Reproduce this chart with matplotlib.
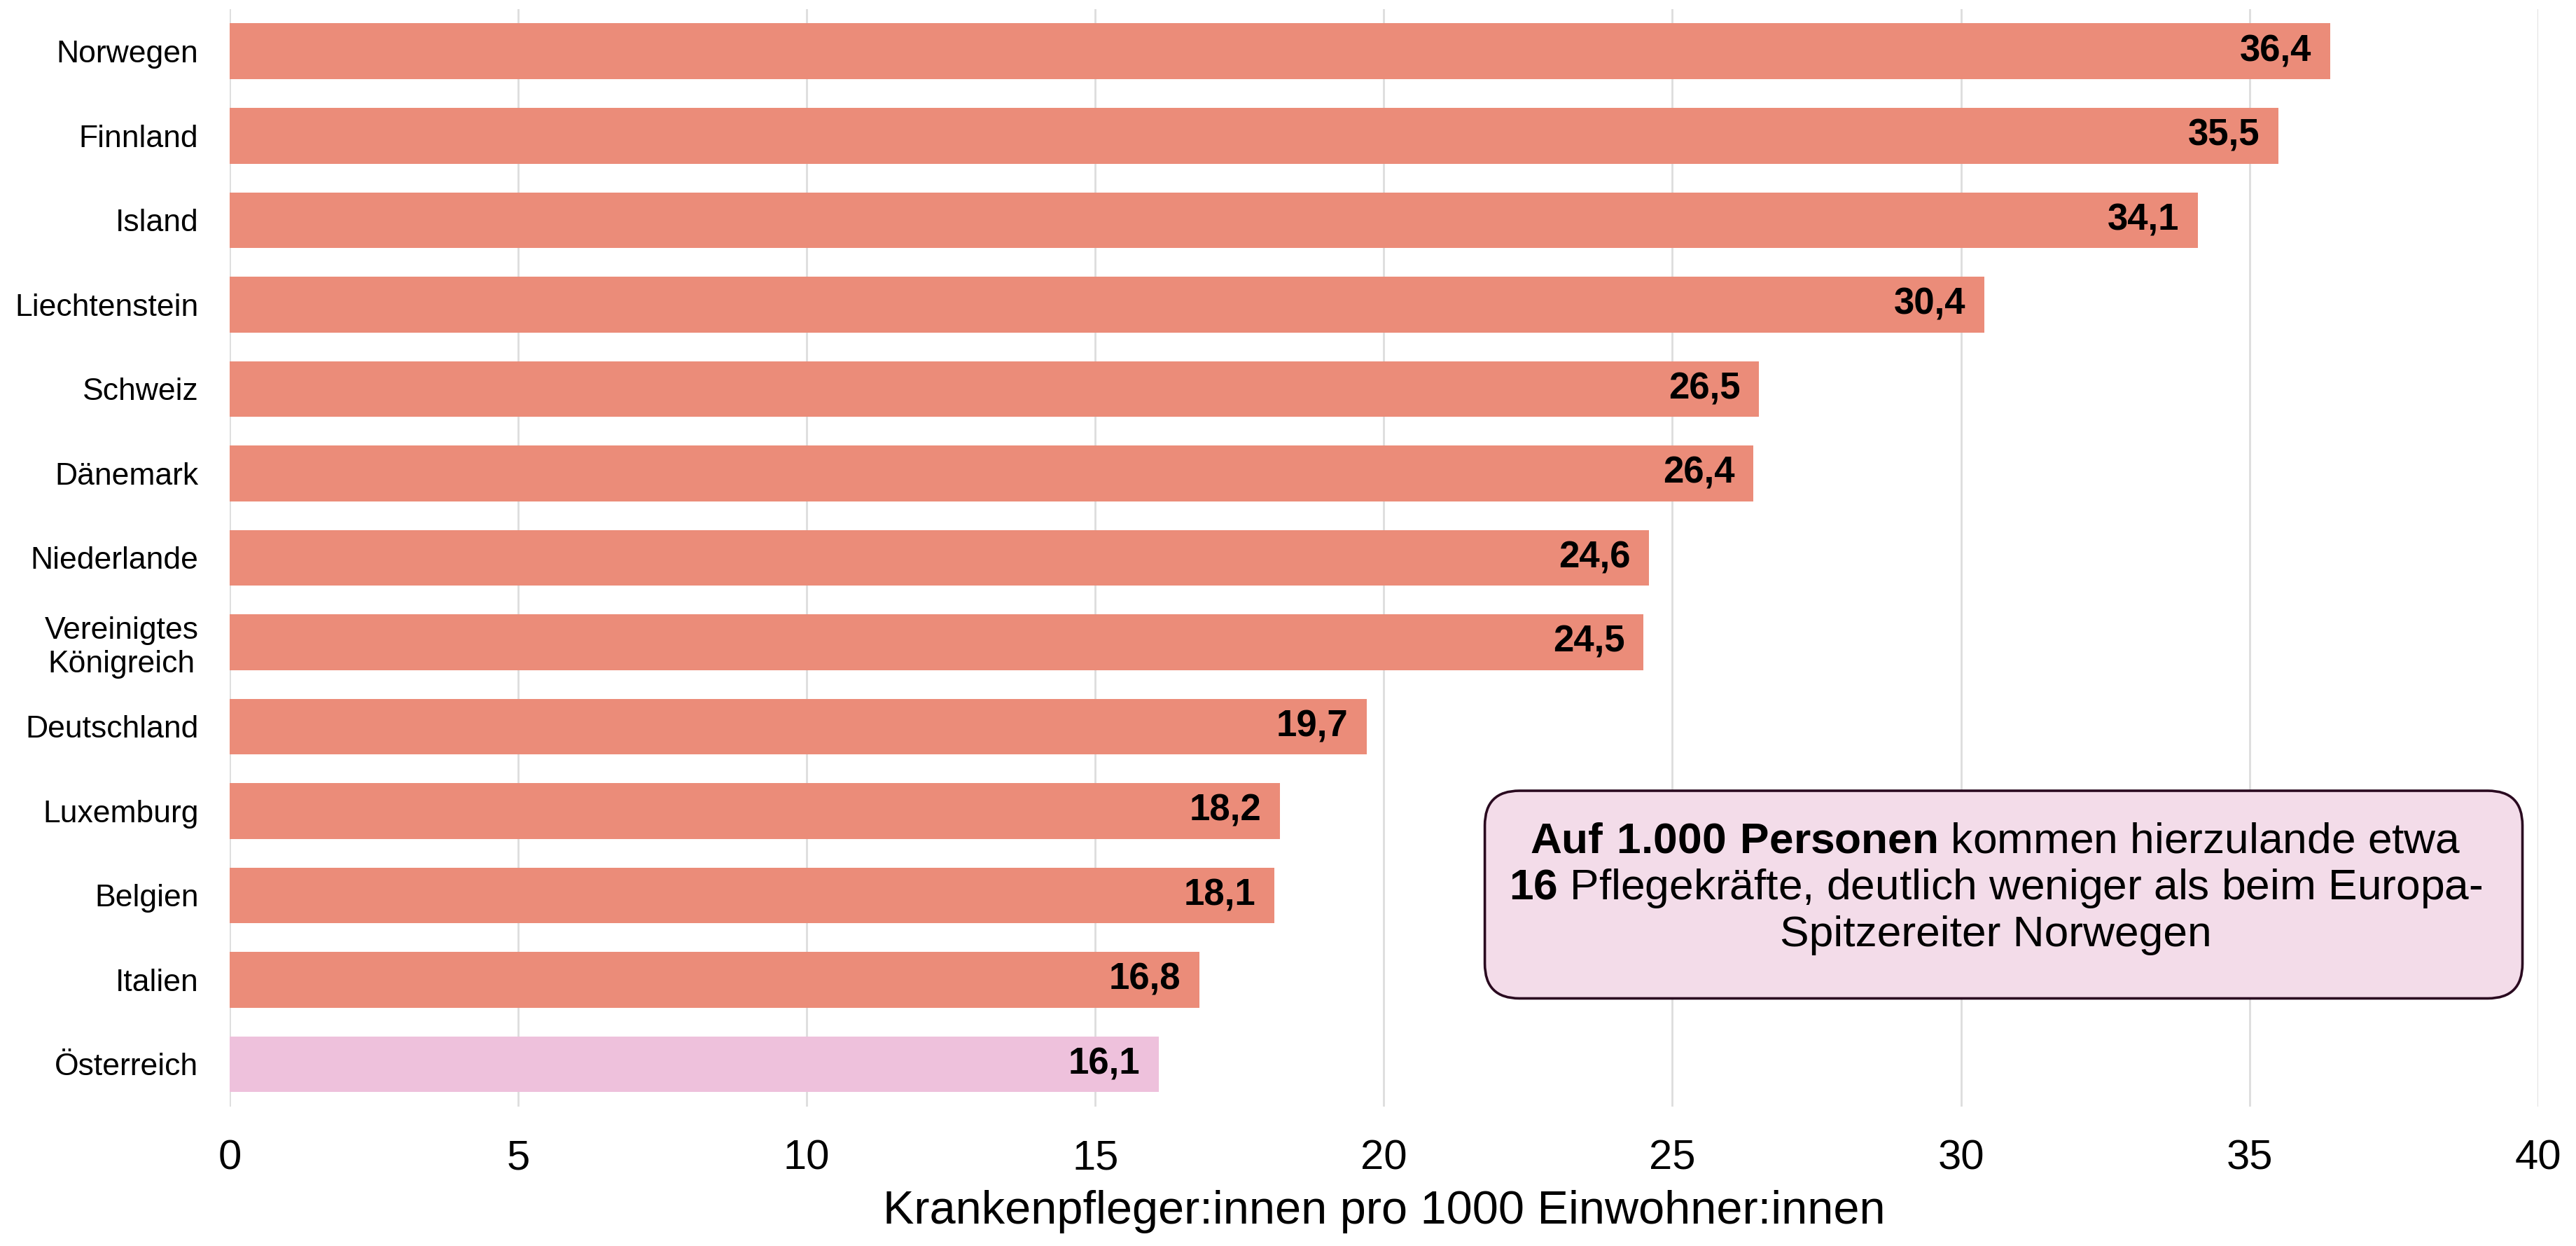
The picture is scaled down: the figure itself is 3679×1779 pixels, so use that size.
import matplotlib
matplotlib.use("Agg")
import matplotlib.pyplot as plt
from matplotlib.patches import FancyBboxPatch

plt.rcParams['font.family'] = ['Liberation Sans', 'DejaVu Sans']
plt.rcParams['mathtext.fontset'] = 'custom'
plt.rcParams['mathtext.rm'] = 'Liberation Sans'
plt.rcParams['mathtext.bf'] = 'Liberation Sans:bold'

# Daten (von oben nach unten)
laender = ["Norwegen", "Finnland", "Island", "Liechtenstein", "Schweiz", "Dänemark",
           "Niederlande", "Vereinigtes\nKönigreich", "Deutschland", "Luxemburg",
           "Belgien", "Italien", "Österreich"]
werte = [36.4, 35.5, 34.1, 30.4, 26.5, 26.4, 24.6, 24.5, 19.7, 18.2, 18.1, 16.8, 16.1]
x_ticks = [0, 5, 10, 15, 20, 25, 30, 35, 40]

farbe = "#EB8C79"
farbe_at = "#EEC1DC"

fig = plt.figure(figsize=(18.4, 8.895), dpi=200)
ax = fig.add_axes([0.0891, 0.112, 0.985 - 0.0891, 0.9927 - 0.112])

n = len(laender)
pos = [n - 1 - i for i in range(n)]
farben = [farbe_at if l == "Österreich" else farbe for l in laender]
ax.barh(pos, werte, height=0.66, color=farben, zorder=2)

for p, w in zip(pos, werte):
    ax.annotate("{:.1f}".format(w).replace(".", ","), xy=(w, p), xytext=(-9.5, 0),
                textcoords="offset points", ha="right", va="center",
                fontsize=19, fontweight="bold", color="black", zorder=3)

ax.set_xlim(0, 40)
ax.set_ylim(-0.5, n - 0.5)
ax.set_xticks(x_ticks)
ax.set_xticklabels([str(t) for t in x_ticks], fontsize=21.5)
ax.set_yticks(pos)
ax.set_yticklabels(laender, fontsize=16, multialignment="center")
ax.tick_params(axis="both", length=0)
ax.tick_params(axis="y", pad=16)
ax.tick_params(axis="x", pad=17)
ax.grid(axis="x", color="#DDDDDD", linewidth=1.0, zorder=0)
ax.set_axisbelow(True)
for s in ax.spines.values():
    s.set_visible(False)
ax.set_xlabel("Krankenpfleger:innen pro 1000 Einwohner:innen", fontsize=24, labelpad=6)

# Infobox
box = FancyBboxPatch((21.75, 0.78), 39.73 - 21.75, 3.24 - 0.78,
                     boxstyle="round,pad=0,rounding_size=0.6", mutation_aspect=0.684,
                     facecolor="#F3DCE9", edgecolor="#2A0A20", linewidth=1.3, zorder=4)
ax.add_patch(box)
ax.text(30.6, 2.08,
        r"$\mathbf{Auf\ 1.000\ Personen}$ kommen hierzulande etwa" "\n"
        r"$\mathbf{16}$ Pflegekräfte, deutlich weniger als beim Europa-" "\n"
        "Spitzereiter Norwegen",
        ha="center", va="center", multialignment="center", fontsize=22.4,
        linespacing=1.18, zorder=5)

fig.savefig("out.png", dpi=200)
